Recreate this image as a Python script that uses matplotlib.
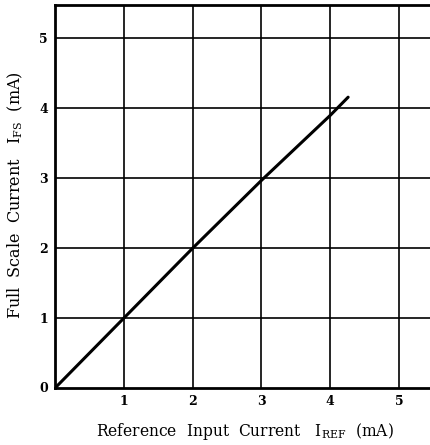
import matplotlib
matplotlib.use('Agg')
import matplotlib.pyplot as plt

# Transfer curve: full scale current vs reference input current (mA)
i_ref = [0, 1, 2, 3, 4, 4.26]
i_fs = [0, 1, 2, 2.97, 3.9, 4.16]

ticks = [1, 2, 3, 4, 5]

plt.rcParams['font.family'] = 'DejaVu Serif'
plt.rcParams['mathtext.fontset'] = 'custom'
plt.rcParams['mathtext.rm'] = 'DejaVu Serif'

fig = plt.figure(figsize=(4.3, 4.45), dpi=100)
ax = fig.add_axes([0.128, 0.128, 0.872, 0.861])

ax.plot(i_ref, i_fs, color='black', linewidth=2.2, solid_capstyle='round')

ax.set_xlim(0, 5.45)
ax.set_ylim(0, 5.48)
ax.set_xticks(ticks)
ax.set_yticks(ticks)
ax.grid(True, color='black', linewidth=1.2)
ax.set_axisbelow(True)

ax.tick_params(length=0, pad=5, labelsize=9)
for lab in ax.get_xticklabels() + ax.get_yticklabels():
    lab.set_fontweight('bold')
ax.text(-0.1, 0, '0', transform=ax.transData, ha='right', va='center',
        fontsize=9, fontweight='bold')

for side in ['left', 'top', 'bottom']:
    ax.spines[side].set_linewidth(2.0)
ax.spines['right'].set_visible(False)

fig.text(0.570, 0.030, r'Reference  Input  Current   $\mathregular{I_{REF}}$  (mA)',
         fontsize=11.2, ha='center', va='center')
fig.text(0.035, 0.562, r'Full  Scale  Current   $\mathregular{I_{FS}}$  (mA)',
         fontsize=11.5, ha='center', va='center', rotation=90)

fig.savefig('out.png', dpi=100)
